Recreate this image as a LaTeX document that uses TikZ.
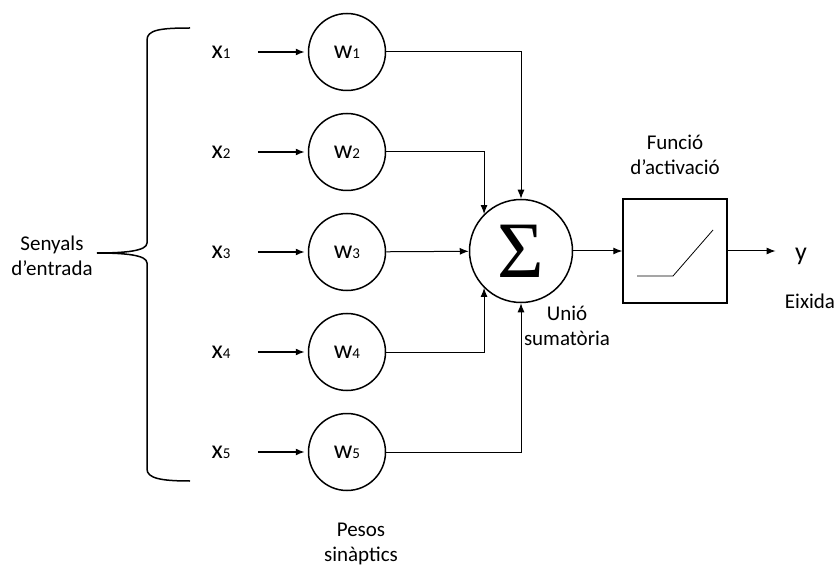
\documentclass[tikz,border=0pt]{standalone}
\usepackage{fontspec}
\setmainfont{Carlito}
\newfontfamily\sigmafont{Liberation Serif}
\usetikzlibrary{arrows.meta}

\newcommand{\lbl}[2]{{\fontsize{26}{26}\selectfont #1}{\fontsize{15}{15}\selectfont #2}}

\begin{document}
\begin{tikzpicture}[x=1pt,
            y=-1pt,
            >={Latex[length=9pt,width=7pt]},
            font=\fontsize{21}{24.5}\selectfont,
            weight/.style={circle,draw,line width=1.5pt,minimum size=77pt,inner sep=0pt},
            inp/.style={->,line width=1.5pt,shorten <=24pt,shorten >=3pt},
            conn/.style={->,line width=1pt}]

        \useasboundingbox (0,0) rectangle (835,569);

        % inputs and synaptic weights
        \node (x1) at (221,52)  {\lbl{x}{1}};
        \node (x2) at (221,152) {\lbl{x}{2}};
        \node (x3) at (221,252) {\lbl{x}{3}};
        \node (x4) at (221,352) {\lbl{x}{4}};
        \node (x5) at (221,452) {\lbl{x}{5}};

        \node[weight] (w1) at (347,52)  {\lbl{w}{1}};
        \node[weight] (w2) at (347,152) {\lbl{w}{2}};
        \node[weight] (w3) at (347,252) {\lbl{w}{3}};
        \node[weight] (w4) at (347,352) {\lbl{w}{4}};
        \node[weight] (w5) at (347,452) {\lbl{w}{5}};

        \node[circle,draw,line width=1.5pt,minimum size=103pt,inner sep=0pt] (sum) at (521,251)
            {\sigmafont\fontsize{80}{80}\selectfont Σ};
        \node[draw,line width=1.5pt,minimum size=104pt,inner sep=0pt] (act) at (675,251) {};
        \node (y) at (801,256) {\fontsize{26}{26}\selectfont y};

        % labels
        \node[align=center] (senyals) at (52,256)  {Senyals\\d’entrada};
        \node[align=center] (funcio)  at (675,155) {Funció\\d’activació};
        \node[align=center] (unio)    at (567,326) {Unió\\sumatòria};
        \node               (eixida)  at (810,301) {Eixida};
        \node[align=center] (pesos)   at (361,544) {Pesos\\sinàptics};

        % brace
        \draw[line width=1.5pt] (190,28) .. controls (160,28) and (147,30) .. (147,40)
            -- (147,243) .. controls (147,251) and (125,253) .. (97,253)
            .. controls (125,253) and (147,255) .. (147,263)
            -- (147,469) .. controls (147,478) and (160,481) .. (190,481);

        % connections
        \draw[inp] (x1) -- (w1);
        \draw[inp] (x2) -- (w2);
        \draw[inp] (x3) -- (w3);
        \draw[inp] (x4) -- (w4);
        \draw[inp] (x5) -- (w5);

        \draw[conn] (w1) -| (sum.north);
        \draw[conn] (w2) -| (sum.north west);
        \draw[conn] (w3) -- (sum);
        \draw[conn] (w4) -| (sum.south west);
        \draw[conn] (w5) -| (sum.south);
        \draw[conn] (sum) -- (act);
        \draw[conn,shorten >=16pt] (act.east) -- (y.west |- act.east);

        % activation curve
        \draw[line width=0.8pt] (637,276) -- (673,276) -- (713,230);

    \end{tikzpicture}
\end{document}
